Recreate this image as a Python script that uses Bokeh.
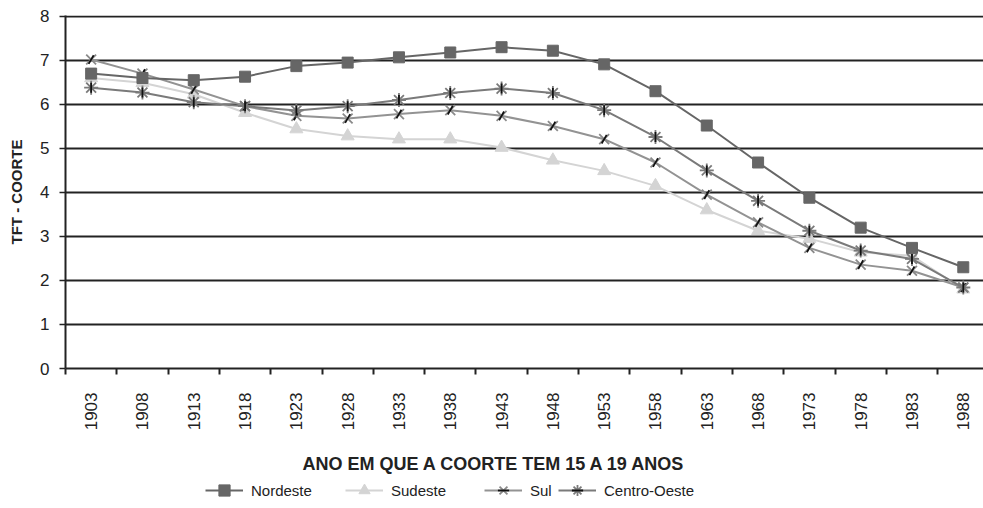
from math import pi
from bokeh.plotting import figure
from bokeh.layouts import column
from bokeh.models import (Range1d, FixedTicker, Legend, LegendItem, Label,
                          ColumnDataSource)
from bokeh.embed import file_html
from bokeh.resources import INLINE

years = [1903, 1908, 1913, 1918, 1923, 1928, 1933, 1938, 1943, 1948,
         1953, 1958, 1963, 1968, 1973, 1978, 1983, 1988]
nordeste = [6.70, 6.60, 6.55, 6.63, 6.87, 6.95, 7.07, 7.18, 7.30, 7.22,
            6.91, 6.30, 5.52, 4.68, 3.88, 3.20, 2.74, 2.30]
sudeste = [6.60, 6.49, 6.23, 5.81, 5.44, 5.28, 5.21, 5.21, 5.02, 4.73,
           4.49, 4.15, 3.60, 3.13, 2.95, 2.64, 2.56, 1.80]
sul = [7.02, 6.70, 6.34, 5.96, 5.74, 5.68, 5.78, 5.87, 5.74, 5.51,
       5.21, 4.68, 3.95, 3.32, 2.74, 2.36, 2.22, 1.84]
centro_oeste = [6.38, 6.27, 6.05, 5.96, 5.86, 5.96, 6.10, 6.26, 6.36, 6.26,
                5.87, 5.26, 4.50, 3.81, 3.13, 2.68, 2.49, 1.84]
series_names = ["Nordeste", "Sudeste", "Sul", "Centro-Oeste"]
y_ticks = [0, 1, 2, 3, 4, 5, 6, 7, 8]
x_title = "ANO EM QUE A COORTE TEM 15 A 19 ANOS"

FONT = "Liberation Sans"
INK = "#222222"

# ---------------- main chart ----------------
p = figure(width=983, height=444, output_backend="svg", toolbar_location=None,
           x_range=Range1d(1900.5, 1989.97), y_range=Range1d(0, 8.02),
           min_border_left=65, min_border_right=0, min_border_top=15,
           min_border_bottom=76)
p.outline_line_color = None

boundaries = [y - 2.5 for y in years]
p.xaxis.ticker = FixedTicker(ticks=years, minor_ticks=boundaries)
p.xaxis.major_tick_out = 0
p.xaxis.major_tick_in = 0
p.xaxis.minor_tick_out = 6
p.xaxis.minor_tick_in = 0
p.xaxis.minor_tick_line_color = INK
p.xaxis.minor_tick_line_width = 2
p.xaxis.major_label_orientation = pi / 2
p.xaxis.major_label_standoff = 18
p.xaxis.major_label_text_font = FONT
p.xaxis.major_label_text_font_size = "17px"
p.xaxis.major_label_text_color = INK
p.xaxis.axis_line_color = INK
p.xaxis.axis_line_width = 2

p.yaxis.ticker = FixedTicker(ticks=y_ticks)
p.yaxis.major_tick_out = 6
p.yaxis.major_tick_in = 0
p.yaxis.minor_tick_line_color = None
p.yaxis.major_tick_line_color = INK
p.yaxis.major_tick_line_width = 1.5
p.yaxis.axis_line_color = INK
p.yaxis.axis_line_width = 2
p.yaxis.major_label_standoff = 10
p.yaxis.major_label_text_font = FONT
p.yaxis.major_label_text_font_size = "17px"
p.yaxis.major_label_text_color = INK
p.yaxis.axis_label = "TFT - COORTE"
p.yaxis.axis_label_text_font = FONT
p.yaxis.axis_label_text_font_style = "bold"
p.yaxis.axis_label_text_font_size = "15px"
p.yaxis.axis_label_text_color = INK
p.yaxis.axis_label_standoff = 12

p.xgrid.grid_line_color = None
p.ygrid.ticker = FixedTicker(ticks=y_ticks)
p.ygrid.grid_line_color = INK
p.ygrid.grid_line_width = 2

src = ColumnDataSource(dict(x=years, ne=nordeste, se=sudeste, s=sul, co=centro_oeste))

STY = {
    "se": dict(line=dict(line_color="#d4d4d4", line_width=2),
               marks=[dict(marker="triangle", size=13, fill_color="#d4d4d4",
                           line_color="#d4d4d4")]),
    "s": dict(line=dict(line_color="#939393", line_width=2),
              marks=[dict(marker="x", size=14, line_color="#8a8a8a", line_width=1.8),
                     dict(marker="dash", size=10, angle=pi / 3, line_color="#111111",
                          line_width=1.8)]),
    "co": dict(line=dict(line_color="#7a7a7a", line_width=2),
               marks=[dict(marker="asterisk", size=14, line_color="#7a7a7a",
                           line_width=1.8),
                      dict(marker="dash", size=10, angle=pi / 2, line_color="#111111",
                           line_width=1.8)]),
    "ne": dict(line=dict(line_color="#666666", line_width=2),
               marks=[dict(marker="square", size=11, fill_color="#666666",
                           line_color="#666666")]),
}
for key in ["se", "s", "co", "ne"]:
    p.line("x", key, source=src, **STY[key]["line"])
    for mk in STY[key]["marks"]:
        p.scatter("x", key, source=src, **mk)

# ---------------- footer: x title + legend ----------------
# frame is aligned with the main chart (x 65..983); the series data fall outside
# these ranges, so only the legend swatches show
f = figure(width=983, height=64, output_backend="svg", toolbar_location=None,
           x_range=Range1d(65, 983), y_range=Range1d(0, 64),
           min_border=0, min_border_left=0, min_border_right=0,
           min_border_top=0, min_border_bottom=0)
f.outline_line_color = None
f.xaxis.visible = False
f.yaxis.visible = False
f.grid.visible = False

f.add_layout(Label(x=494, y=45, text=x_title, text_font=FONT,
                   text_font_style="bold", text_font_size="18px", text_color=INK,
                   text_align="center", text_baseline="middle"))

legend_x = {"ne": 140, "se": 280, "s": 419, "co": 493}
for name, key in zip(series_names, ["ne", "se", "s", "co"]):
    rends = [f.line("x", key, source=src, **STY[key]["line"])]
    for mk in STY[key]["marks"]:
        rends.append(f.scatter("x", key, source=src, **mk))
    lg = Legend(items=[LegendItem(label=name, renderers=rends)],
                location=(legend_x[key], 4), orientation="horizontal",
                padding=0, margin=0, spacing=0, glyph_width=38, glyph_height=28,
                label_standoff=8, label_text_font=FONT, label_text_font_size="15px",
                label_text_color=INK, border_line_alpha=0, background_fill_alpha=0)
    f.add_layout(lg)

layout = column(p, f, spacing=0)
open("out.html", "w").write(file_html(layout, INLINE))
